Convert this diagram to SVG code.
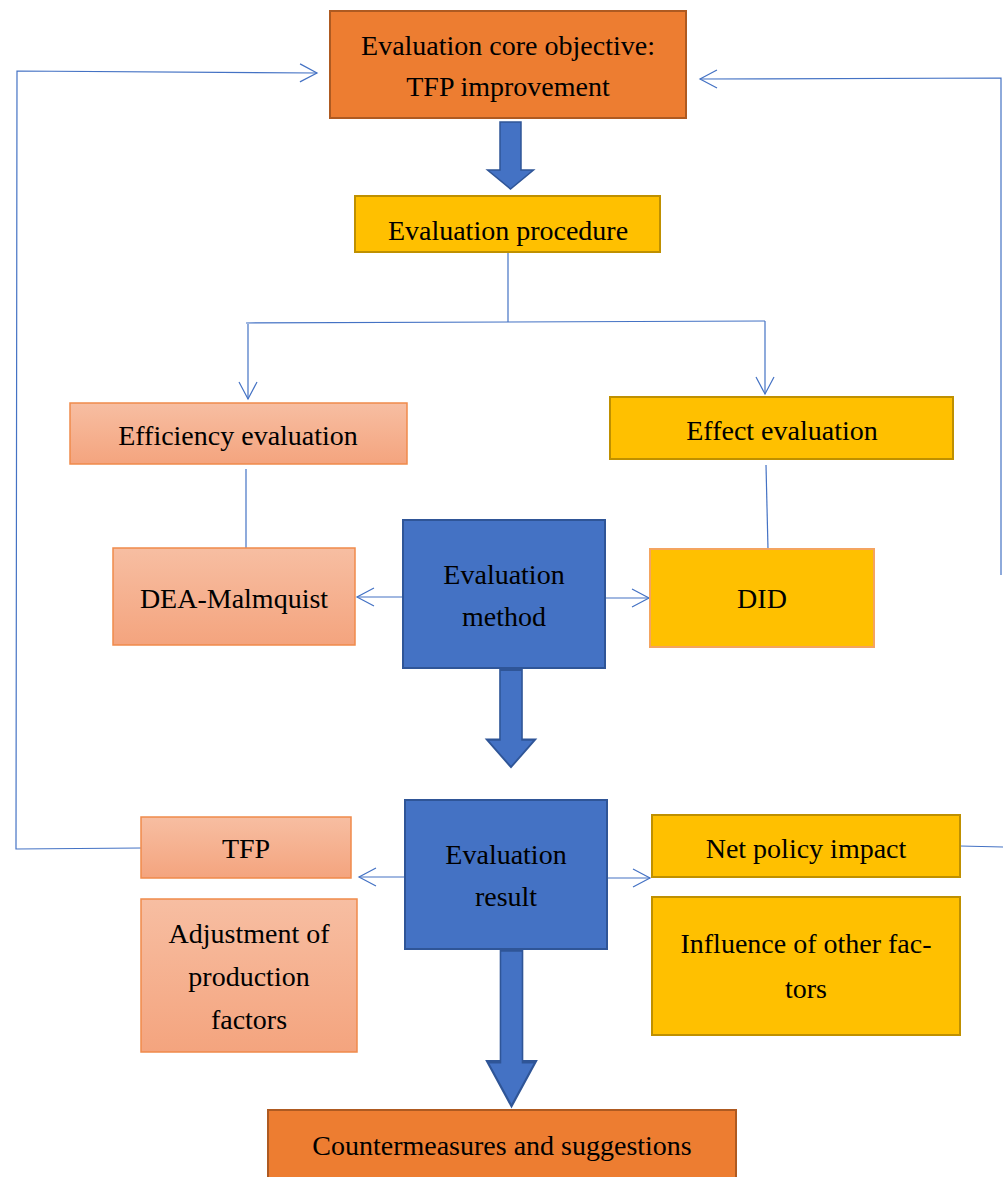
<svg xmlns="http://www.w3.org/2000/svg" width="1003" height="1177" viewBox="0 0 1003 1177">
<defs>
<linearGradient id="pk" x1="0" y1="0" x2="0" y2="1">
<stop offset="0" stop-color="#F7BEA2"/>
<stop offset="1" stop-color="#F4A47E"/>
</linearGradient>
<marker id="ah" viewBox="0 0 20 20" refX="18" refY="10" markerWidth="20" markerHeight="20" markerUnits="userSpaceOnUse" orient="auto">
<path d="M1,1 L18,10 L1,19" fill="none" stroke="#4472C4" stroke-width="1.2"/>
</marker>
<path id="bigarrow" d="M-10.5,0 H10.5 V48 H23 L0,67 L-23,48 H-10.5 Z"/>
</defs>
<style>
text{font-family:"Liberation Serif","Times New Roman",serif;font-size:28px;fill:#000;text-anchor:middle}
.org{fill:#ED7D31;stroke:#AE5A21;stroke-width:2}
.yel{fill:#FFC000;stroke:#BF9000;stroke-width:2}
.yelo{fill:#FFC000;stroke:#F4A460;stroke-width:2}
.pnk{fill:url(#pk);stroke:#F08A4B;stroke-width:1.5}
.blu{fill:#4472C4;stroke:#2F5597;stroke-width:2}
.ln{fill:none;stroke:#4472C4;stroke-width:1.2}
.big{fill:#4472C4;stroke:#2F5597;stroke-width:1.5}
</style>

<g id="connectors">
<line class="ln" x1="508" y1="252" x2="508" y2="322"/>
<polyline class="ln" points="246,323 765,321"/>
<line class="ln" x1="248" y1="324" x2="248" y2="399" marker-end="url(#ah)"/>
<line class="ln" x1="765" y1="321" x2="765" y2="394" marker-end="url(#ah)"/>
<line class="ln" x1="246" y1="469" x2="246" y2="548"/>
<line class="ln" x1="766" y1="465" x2="768" y2="549"/>
<line class="ln" x1="403" y1="597" x2="357" y2="597" marker-end="url(#ah)"/>
<line class="ln" x1="605" y1="598" x2="649" y2="598" marker-end="url(#ah)"/>
<line class="ln" x1="405" y1="877" x2="359" y2="877" marker-end="url(#ah)"/>
<line class="ln" x1="607" y1="878" x2="650" y2="878" marker-end="url(#ah)"/>
<polyline class="ln" points="141,848 16,849 17,71 317,73" marker-end="url(#ah)"/>
<polyline class="ln" points="1001,575 1001,78 700,79" marker-end="url(#ah)"/>
<line class="ln" x1="960" y1="846" x2="1003" y2="847"/>
<use href="#bigarrow" class="big" transform="translate(510.5,122) scale(1,1)"/>
<use href="#bigarrow" class="big" transform="translate(511,670) scale(1.05,1.45)"/>
<use href="#bigarrow" class="big" transform="translate(511.5,950) scale(1.05,2.33)"/>
</g>

<g id="objective">
<rect class="org" x="330" y="11" width="356" height="107"/>
<text x="508" y="55">Evaluation core objective:</text>
<text x="508" y="96">TFP improvement</text>
</g>
<g id="procedure">
<rect class="yel" x="355" y="196" width="305" height="56"/>
<text x="508" y="240">Evaluation procedure</text>
</g>
<g id="efficiency">
<rect class="pnk" x="70" y="403" width="337" height="61"/>
<text x="238" y="445">Efficiency evaluation</text>
</g>
<g id="effect">
<rect class="yel" x="610" y="397" width="343" height="62"/>
<text x="782" y="440">Effect evaluation</text>
</g>
<g id="dea">
<rect class="pnk" x="113" y="548" width="242" height="97"/>
<text x="234" y="608">DEA-Malmquist</text>
</g>
<g id="method">
<rect class="blu" x="403" y="520" width="202" height="148"/>
<text x="504" y="584">Evaluation</text>
<text x="504" y="626">method</text>
</g>
<g id="did">
<rect class="yelo" x="650" y="549" width="224" height="98"/>
<text x="762" y="608">DID</text>
</g>
<g id="result">
<rect class="blu" x="405" y="800" width="202" height="149"/>
<text x="506" y="864">Evaluation</text>
<text x="506" y="906">result</text>
</g>
<g id="tfp">
<rect class="pnk" x="141" y="817" width="210" height="61"/>
<text x="246" y="858">TFP</text>
</g>
<g id="adjustment">
<rect class="pnk" x="141" y="899" width="216" height="153"/>
<text x="249" y="943">Adjustment of</text>
<text x="249" y="986">production</text>
<text x="249" y="1029">factors</text>
</g>
<g id="netpolicy">
<rect class="yel" x="652" y="815" width="308" height="62"/>
<text x="806" y="858">Net policy impact</text>
</g>
<g id="influence">
<rect class="yel" x="652" y="897" width="308" height="138"/>
<text x="806" y="953">Influence of other fac-</text>
<text x="806" y="998">tors</text>
</g>
<g id="countermeasures">
<rect class="org" x="268" y="1110" width="468" height="72"/>
<text x="502" y="1155">Countermeasures and suggestions</text>
</g>
</svg>
